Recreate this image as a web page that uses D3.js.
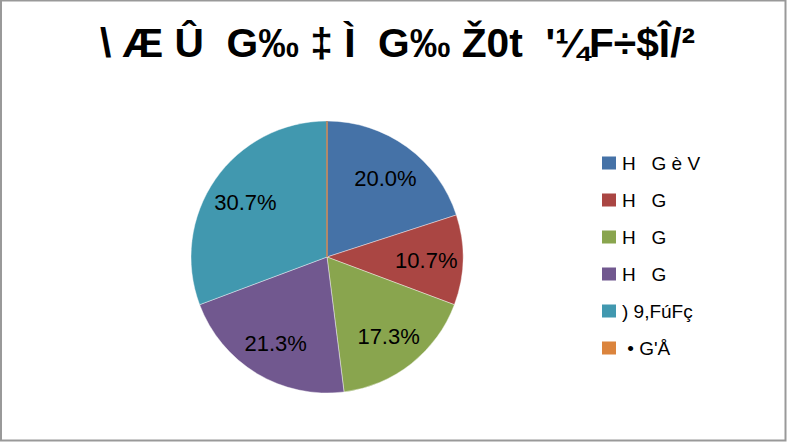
<!DOCTYPE html>
<html><head><meta charset="utf-8">
<script src="https://cdn.jsdelivr.net/npm/d3@7"></script>
<style>body{margin:0;background:#fff}svg{display:block}</style>
</head><body>
<svg id="c" width="787" height="443"></svg>
<script>
const titleText = "\\ Æ Û  G‰ ‡ Ì  G‰ Ž0t  '¼F÷$Î/²";
const categories = ["H   G è V", "H   G", "H   G", "H   G", ") 9,FúFç", " • G'Å"];
const values = [20.0, 10.7, 17.3, 21.3, 30.7, 0];
const colors = ["#4572A7", "#AA4643", "#89A54E", "#71588F", "#4198AF", "#DB843D"];

const FONT = "'Liberation Sans', Arial, sans-serif";
const svg = d3.select("#c");
svg.append("rect").attr("x",1).attr("y",0.5).attr("width",784.5).attr("height",440)
  .attr("fill","#fff").attr("stroke","#999").attr("stroke-width",2);

svg.append("text").attr("x",100).attr("y",57)
  .attr("font-family",FONT).attr("font-weight","bold")
  .attr("font-size",40).attr("fill","#000").style("white-space","pre")
  .attr("textLength",595).attr("lengthAdjust","spacingAndGlyphs").text(titleText);

const cx = 327, cy = 257, R = 136;
const pie = d3.pie().sort(null).value(d => d)(values);
const arc = d3.arc().innerRadius(0).outerRadius(R);
const lab = d3.arc().innerRadius(R*0.73).outerRadius(R*0.73);
const g = svg.append("g").attr("transform",`translate(${cx},${cy})`);
g.selectAll("path").data(pie).enter().append("path")
  .attr("d", arc).attr("fill",(d,i)=>colors[i])
  .attr("stroke",(d,i)=> values[i]===0 ? "#B08A6A" : "rgba(255,255,255,0.5)")
  .attr("stroke-width",(d,i)=> values[i]===0 ? 2 : 0.8);
g.selectAll("text").data(pie.filter(d=>d.data>0)).enter().append("text")
  .attr("transform", d => `translate(${lab.centroid(d)})`)
  .attr("text-anchor","middle").attr("dy","0.42em")
  .attr("font-family",FONT).attr("font-size",22)
  .attr("fill","#000").text(d => d.data.toFixed(1) + "%");

const leg = svg.append("g");
const rowY = d3.scaleLinear().domain([0,5]).range([163,348]);
categories.forEach((c,i)=>{
  leg.append("rect").attr("x",602).attr("y",rowY(i)-6.5).attr("width",14).attr("height",13).attr("fill",colors[i]);
  leg.append("text").attr("x",622).attr("y",rowY(i)+6.5)
    .attr("font-family",FONT).attr("font-size",19)
    .attr("fill","#000").style("white-space","pre").text(c);
});
</script>
</body></html>
